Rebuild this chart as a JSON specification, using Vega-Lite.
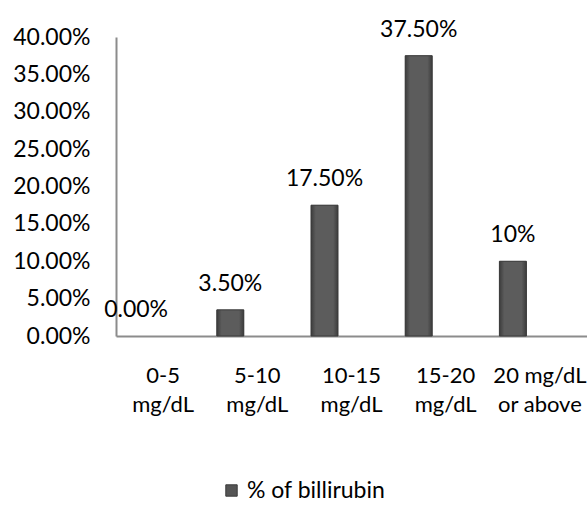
{
  "$schema": "https://vega.github.io/schema/vega-lite/v6.json",
  "width": 471,
  "height": 299,
  "autosize": "none",
  "padding": {"left": 116, "top": 37, "right": 0, "bottom": 170},
  "background": "white",
  "data": {
    "values": [
      {"range": "0-5 mg/dL", "share": 0.0, "label": "0.00%", "series": "% of billirubin"},
      {"range": "5-10 mg/dL", "share": 0.035, "label": "3.50%", "series": "% of billirubin"},
      {"range": "10-15 mg/dL", "share": 0.175, "label": "17.50%", "series": "% of billirubin"},
      {"range": "15-20 mg/dL", "share": 0.375, "label": "37.50%", "series": "% of billirubin"},
      {"range": "20 mg/dL or above", "share": 0.1, "label": "10%", "series": "% of billirubin"}
    ]
  },
  "encoding": {
    "x": {
      "field": "range",
      "type": "nominal",
      "sort": ["0-5 mg/dL", "5-10 mg/dL", "10-15 mg/dL", "15-20 mg/dL", "20 mg/dL or above"],
      "title": null,
      "scale": {"paddingInner": 0, "paddingOuter": 0},
      "axis": {
        "labelAngle": 0,
        "labelExpr": "datum.value == '20 mg/dL or above' ? ['20 mg/dL', 'or above'] : split(datum.value, ' ')",
        "labelPadding": 29,
        "labelLineHeight": 29,
        "labelFontSize": 22,
        "ticks": false,
        "domainColor": "#8c8c8c",
        "domainWidth": 2
      }
    },
    "y": {
      "field": "share",
      "type": "quantitative",
      "title": null,
      "scale": {"domain": [0, 0.4]},
      "axis": {
        "values": [0, 0.05, 0.1, 0.15, 0.2, 0.25, 0.3, 0.35, 0.4],
        "format": ".2%",
        "grid": false,
        "ticks": false,
        "labelPadding": 26,
        "domainColor": "#8c8c8c",
        "domainWidth": 2
      }
    }
  },
  "layer": [
    {
      "transform": [{"filter": "datum.share > 0"}],
      "mark": {"type": "bar", "size": 27, "xOffset": -27},
      "encoding": {
        "color": {
          "field": "series",
          "type": "nominal",
          "scale": {"range": ["#555555"]},
          "legend": {
            "title": null,
            "orient": "none",
            "legendX": 104,
            "legendY": 442,
            "symbolType": "square",
            "symbolSize": 130,
            "symbolStrokeColor": "#3a3a3a",
            "symbolStrokeWidth": 1
          }
        }
      }
    },
    {
      "transform": [{"filter": "datum.share > 0"}],
      "mark": {
        "type": "bar",
        "size": 27,
        "xOffset": -27,
        "stroke": "#3b3b3b",
        "strokeWidth": 1,
        "color": {
          "gradient": "linear",
          "x1": 0, "y1": 0, "x2": 1, "y2": 0,
          "stops": [
            {"offset": 0, "color": "#3c3c3c"},
            {"offset": 0.18, "color": "#5c5c5c"},
            {"offset": 0.82, "color": "#5c5c5c"},
            {"offset": 1, "color": "#3c3c3c"}
          ]
        }
      }
    },
    {
      "mark": {
        "type": "text",
        "xOffset": -27,
        "dy": -26,
        "baseline": "middle",
        "fontSize": 23,
        "color": "#000000"
      },
      "encoding": {"text": {"field": "label"}}
    }
  ],
  "config": {
    "font": "Lato",
    "view": {"stroke": null},
    "axis": {"labelFontSize": 23, "labelColor": "#000000", "labelFont": "Lato"},
    "legend": {"labelFontSize": 23, "labelColor": "#000000", "labelFont": "Lato"}
  }
}
